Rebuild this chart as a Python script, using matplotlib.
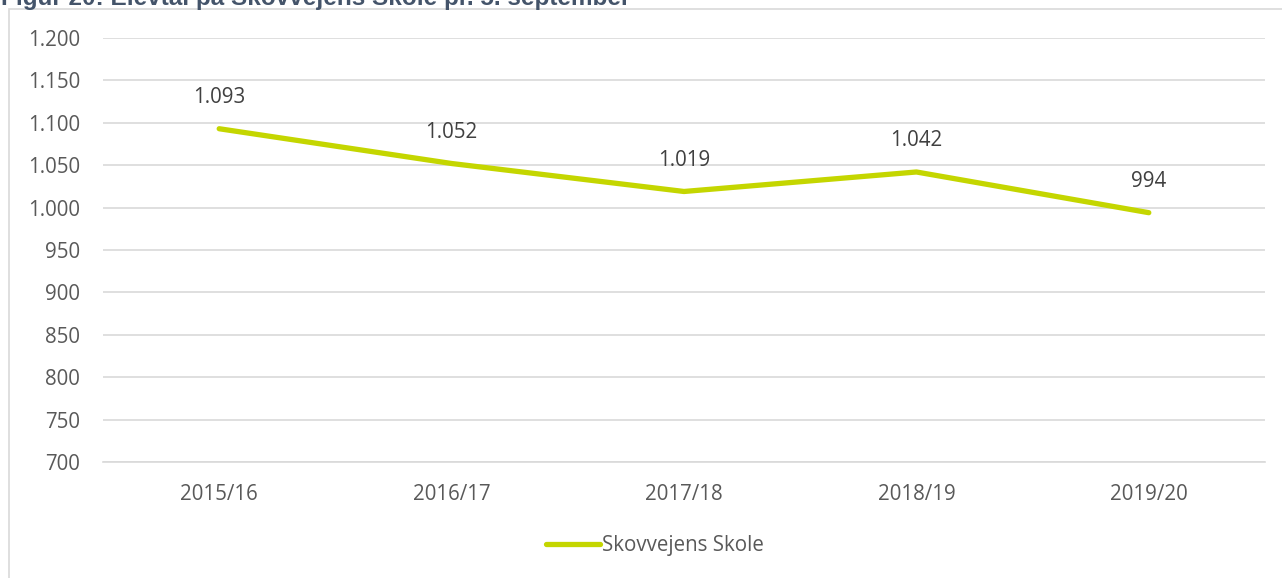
import matplotlib.pyplot as plt
import matplotlib.ticker as mtick
from matplotlib.patches import Rectangle

# data
years = ["2015/16", "2016/17", "2017/18", "2018/19", "2019/20"]
elever = [1093, 1052, 1019, 1042, 994]
serie_navn = "Skovvejens Skole"
titel = "Figur 20: Elevtal på Skovvejens Skole pr. 5. september"

W, H = 1282, 578
plt.rcParams['font.family'] = ['Open Sans', 'DejaVu Sans']

fig = plt.figure(figsize=(W / 100, H / 100), dpi=100)
# outer chart frame
fig.patches.append(Rectangle((9 / W, -0.1), 1.2, 1 - 9 / H + 0.1, transform=fig.transFigure,
                             fill=False, edgecolor="#D9D9D9", linewidth=1.2))
# title is cropped at the top edge in the original
fig.text(1 / W, 1 - 5 / H, titel, fontsize=17.5, fontweight="bold", color="#44546A",
         family="Liberation Sans", va="baseline", ha="left")

ax = fig.add_axes([103 / W, 1 - 462 / H, (1265 - 103) / W, (462 - 38) / H])
x = list(range(len(years)))
ax.plot(x, elever, color="#C4D600", linewidth=3.8, solid_capstyle="round", label=serie_navn)

def fmt(v, pos=None):
    return f"{int(round(v)):,}".replace(",", ".")

fs = 14.8
for xi, v in zip(x, elever):
    ax.annotate(fmt(v), (xi, v), xytext=(0, 15), textcoords="offset points",
                ha="center", va="bottom", fontsize=fs, color="#404040")

ax.set_xlim(-0.5, len(years) - 0.5)
ax.set_ylim(700, 1200)
ax.set_yticks(range(700, 1201, 50))
ax.yaxis.set_major_formatter(mtick.FuncFormatter(fmt))
ax.set_xticks(x)
ax.set_xticklabels(years)
ax.grid(axis="y", color="#D9D9D9", linewidth=1.2)
ax.set_axisbelow(True)
for s in ["top", "right", "left"]:
    ax.spines[s].set_visible(False)
ax.spines["bottom"].set_color("#D9D9D9")
ax.spines["bottom"].set_linewidth(1.2)
ax.tick_params(axis="both", length=0, labelsize=fs, labelcolor="#595959")
ax.tick_params(axis="y", pad=16.5)
ax.tick_params(axis="x", pad=16)

leg = ax.legend(loc="center", bbox_to_anchor=(655 / W, 1 - 546 / H), bbox_transform=fig.transFigure,
                frameon=False, fontsize=fs, handlelength=2.65, handletextpad=0.1)
for t in leg.get_texts():
    t.set_color("#595959")

fig.savefig("out.png", dpi=100)
